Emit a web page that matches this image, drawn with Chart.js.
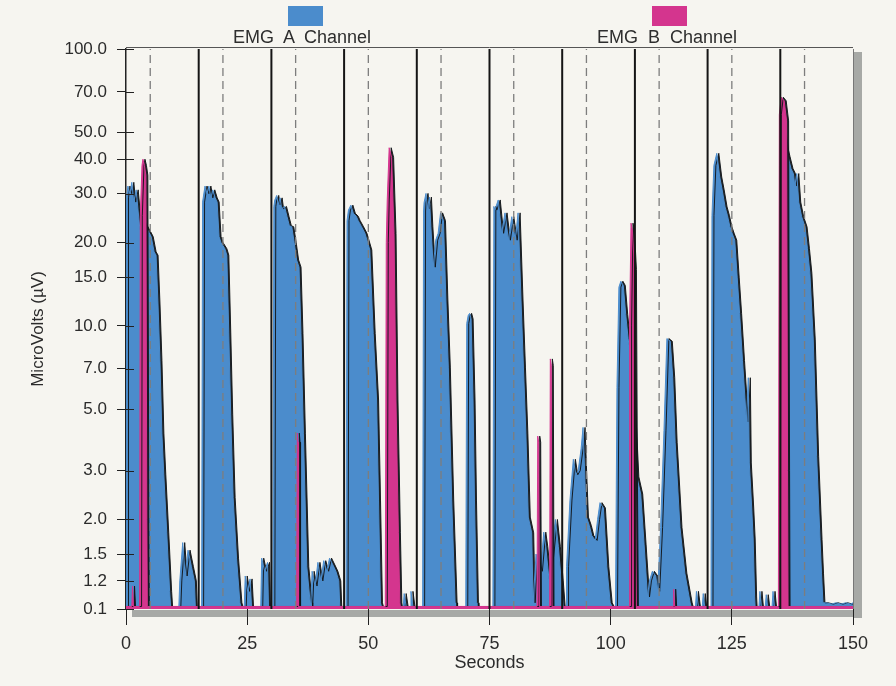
<!DOCTYPE html>
<html>
<head>
<meta charset="utf-8">
<title>EMG channels</title>
<script src="https://cdn.jsdelivr.net/npm/chart.js@4.4.1/dist/chart.umd.min.js"></script>
<style>
  html, body { margin: 0; padding: 0; background: #f6f5f0; }
  #wrap { position: relative; width: 896px; height: 686px; }
  .key { position: absolute; top: 28px; font: 18px "Liberation Sans", Arial, sans-serif; line-height: 18px; color: #2e2e2e; white-space: pre; }
  .swatch { position: absolute; top: 6px; width: 35px; height: 20px; }
</style>
</head>
<body>
<div id="wrap">
  <canvas id="emgChart"></canvas>
  <div class="swatch" id="swatchA" style="left:288px"></div>
  <div class="key" style="left:233px">EMG  A  Channel</div>
  <div class="swatch" id="swatchB" style="left:652px"></div>
  <div class="key" style="left:597px">EMG  B  Channel</div>
</div>
<script>
// resting level: sits on the "0.1" line at the floor of the axis
const REST = 0.1;
const Y_MIN = 0.95;
const Y_MAX = 100;
const Y_TICKS = [0.1, 1.2, 1.5, 2, 3, 5, 7, 10, 15, 20, 30, 40, 50, 70, 100];
const X_MAX = 150;
const X_STEP = 25;

// trial markers (seconds)
const SOLID_MARKS = [15, 30, 45, 60, 75, 90, 105, 120, 135];
const DASHED_MARKS = [5, 20, 35, 50, 65, 80, 95, 110, 125, 140];

// [seconds, microvolts]
const EMG_A = [
  [0.0, 0.1], [0.1, 29], [0.4, 32], [0.8, 30], [1.2, 33], [1.6, 28], [2.1, 31], [2.5, 26], [2.9, 22],
  [3.4, 24], [4.0, 23], [4.6, 22], [5.2, 21], [5.8, 18.5], [6.2, 18], [6.6, 12], [7.0, 7.5], [7.4, 4.1],
  [7.8, 2.9], [8.4, 1.8], [9.0, 1.1], [9.2, 0.1],
  [10.9, 0.1], [11.1, 1.2], [11.7, 1.65], [12.2, 1.25], [12.8, 1.55], [13.5, 1.35], [14.1, 1.2], [14.3, 0.1],
  [15.6, 0.1], [15.8, 28], [16.3, 32], [16.7, 30], [17.1, 32], [17.5, 29], [17.9, 31], [18.4, 29], [18.8, 28],
  [19.2, 21], [19.6, 20], [20.0, 19.5], [20.4, 19], [20.8, 18], [21.2, 9.5], [21.6, 4.8], [22.1, 2.4],
  [22.8, 1.45], [23.5, 1.0], [23.7, 0.1],
  [24.4, 0.1], [24.6, 1.25], [25.1, 1.1], [25.6, 1.22], [25.9, 0.1],
  [27.8, 0.1], [28.0, 1.45], [28.6, 1.3], [29.2, 1.4], [29.4, 0.1],
  [30.3, 0.1], [30.5, 27], [30.7, 28.5], [31.1, 29.6], [31.4, 27.4], [31.8, 29], [32.1, 26.5], [32.7, 27],
  [33.2, 24.9], [33.7, 23], [34.2, 22.8], [34.7, 20], [35.2, 17.3], [35.7, 16.3], [36.1, 9.4], [36.6, 4.1],
  [37.3, 1.35], [38.0, 1.0], [38.1, 0.1],
  [38.4, 1.3], [39.0, 1.15], [39.6, 1.4], [40.2, 1.2], [40.8, 1.42], [41.4, 1.3], [42.0, 1.45], [42.6, 1.38],
  [43.3, 1.3], [43.9, 1.2], [44.1, 0.1],
  [45.4, 0.1], [45.6, 24], [45.9, 26.2], [46.4, 27.3], [46.9, 25.5], [47.5, 24.9], [47.9, 24], [48.6, 22.8],
  [49.3, 21.6], [50.3, 18.8], [51.0, 9.4], [51.7, 5.4], [52.1, 2.35], [52.5, 1.0], [52.7, 0.1],
  [57.2, 0.1], [57.4, 1.08], [57.8, 0.1], [58.6, 0.1], [58.8, 1.1], [59.2, 0.1],
  [61.2, 0.1], [61.4, 26], [61.5, 27.9], [61.9, 30.1], [62.2, 26.5], [62.6, 29.2], [62.9, 22.8], [63.4, 16.3],
  [63.9, 20.4], [64.4, 21.6], [64.9, 25.6], [65.5, 24], [66.0, 12.4], [66.5, 7.1], [67.2, 2.35], [67.9, 1.0],
  [68.0, 0.1],
  [70.1, 0.1], [70.3, 10.2], [70.6, 10.9], [70.9, 11.1], [71.2, 10.6], [71.6, 5.4], [71.9, 2.35], [72.3, 1.0],
  [72.4, 0.1],
  [75.7, 0.1], [75.9, 27], [76.1, 26.2], [76.8, 28.5], [77.5, 21.6], [78.2, 25.6], [78.9, 20.4], [79.6, 24.8],
  [80.3, 20.4], [80.9, 25.6], [81.5, 12.4], [82.0, 7.1], [82.5, 4.1], [83.0, 2.04], [83.7, 1.79], [84.0, 1.0],
  [84.6, 1.5], [85.5, 1.3], [86.2, 1.8], [86.6, 1.6], [87.3, 1.2], [88.6, 2.0], [89.2, 1.6], [89.8, 1.2],
  [90.2, 0.1],
  [90.8, 0.1], [90.9, 1.35], [91.6, 2.35], [92.3, 3.3], [92.8, 2.9], [93.3, 3.0], [93.9, 3.6], [94.3, 4.3],
  [94.7, 2.75], [95.0, 2.04], [95.6, 1.9], [96.1, 1.75], [96.8, 1.68], [97.3, 2.0], [97.8, 2.3], [98.5, 2.2],
  [99.2, 1.35], [99.9, 1.0], [100.3, 0.1],
  [101.0, 0.1], [101.3, 6], [101.7, 13.8], [102.1, 14.5], [102.6, 14], [103.1, 11], [103.6, 9], [104.4, 7],
  [105.0, 4], [105.4, 2.85], [106.2, 2.47], [106.9, 1.62], [107.6, 1.05],
  [108.0, 1.2], [108.6, 1.3], [109.3, 1.25], [109.7, 1.1], [110.3, 1.87], [111.0, 4.2], [111.6, 9.0],
  [112.3, 8.8], [112.8, 6.5], [113.3, 3.8], [114.3, 1.87], [115.3, 1.28], [116.4, 1.0], [116.6, 0.1],
  [117.5, 0.1], [117.7, 1.1], [118.1, 0.1], [118.9, 0.1], [119.1, 1.08], [119.4, 0.1],
  [120.7, 0.1], [120.9, 25], [121.3, 38], [121.9, 42], [122.5, 34.5], [123.0, 31], [123.6, 26.9], [124.1, 25],
  [124.6, 22.8], [125.1, 21.5], [125.6, 20.4], [126.1, 15], [126.6, 11.1], [127.2, 7.5], [127.7, 5.5],
  [128.0, 4.5], [128.4, 6.5], [128.6, 3.2], [129.1, 2.2], [129.4, 1.7], [129.7, 1.05], [129.8, 0.1],
  [130.6, 0.1], [130.8, 1.1], [131.1, 0.1], [131.9, 0.1], [132.1, 1.07], [132.4, 0.1],
  [133.3, 0.1], [133.5, 1.1], [133.8, 0.1],
  [134.8, 0.1], [135.0, 45], [135.8, 50], [136.3, 43], [136.6, 40.8], [137.2, 37], [137.7, 35.5], [138.0, 32],
  [138.4, 35.5], [138.8, 28], [139.4, 24.8], [140.1, 22.8], [140.6, 19], [141.1, 15.5], [141.8, 8.9],
  [142.5, 3.37], [143.2, 1.69], [143.5, 1.28], [143.8, 1.0],
  [144.5, 1.0], [145.5, 0.99], [146.5, 1.0], [147.5, 0.99], [148.5, 1.0], [149.5, 0.99], [150.0, 1.0]
];

const EMG_B = [
  [0.0, 0.1], [1.2, 0.1], [1.35, 1.15], [1.55, 0.1],
  [2.8, 0.1], [2.95, 25], [3.3, 38], [3.5, 40], [3.8, 38], [4.1, 35], [4.3, 2], [4.4, 0.1],
  [35.2, 0.1], [35.35, 4.1], [35.5, 3.8], [35.6, 0.1],
  [53.5, 0.1], [53.7, 20], [53.9, 28.5], [54.3, 44], [54.8, 40.6], [55.3, 21.6], [55.7, 5.4], [56.2, 1.79],
  [56.5, 1.0], [56.6, 0.1],
  [84.8, 0.1], [84.95, 4.0], [85.15, 3.8], [85.3, 0.1],
  [87.4, 0.1], [87.55, 7.6], [87.75, 7.2], [87.9, 0.1],
  [103.8, 0.1], [103.9, 10], [104.2, 23.5], [104.5, 22], [104.9, 16], [105.1, 3], [105.3, 0.1],
  [112.9, 0.1], [113.0, 1.12], [113.2, 0.1],
  [134.6, 0.1], [134.8, 58], [135.2, 67], [135.8, 65], [136.3, 55], [136.5, 3], [136.6, 0.1],
  [150.0, 0.1]
];

const BLUE = '#4b8ccc';
const PINK = '#d4358e';
const FONT = '"Liberation Sans", Arial, sans-serif';

document.getElementById('swatchA').style.background = BLUE;
document.getElementById('swatchB').style.background = PINK;

// rest values are lifted just above the floor so the baseline trace shows
const toPlot = v => (v <= REST ? 0.97 : v);
const series = pts => pts.map(([t, v]) => ({ x: t, y: toPlot(v) }));
const marks = xs => xs.flatMap(x => [{ x, y: Y_MIN }, { x, y: Y_MAX }, { x, y: null }]);

// 3D look of the plot: dark edge on the right of each burst, grey frame shadow
const framePlugin = {
  id: 'frame',
  beforeDraw(chart) {
    const { ctx, chartArea: a } = chart;
    ctx.save();
    ctx.fillStyle = '#a7a9a6';
    ctx.fillRect(a.right, a.top + 3, 9, a.bottom - a.top + 6);
    ctx.fillRect(a.left + 6, a.bottom + 1, a.right - a.left + 3, 7);
    ctx.restore();
  },
  beforeDatasetsDraw(chart) {
    const ctx = chart.ctx;
    ctx.shadowColor = 'rgba(18, 22, 26, 0.95)';
    ctx.shadowOffsetX = 2;
    ctx.shadowOffsetY = 0;
    ctx.shadowBlur = 0.5;
  },
  beforeDatasetDraw(chart, args) {
    if (!chart.data.datasets[args.index].shadow) {
      chart.ctx.shadowColor = 'transparent';
    }
  },
  afterDatasetsDraw(chart) {
    const ctx = chart.ctx;
    ctx.shadowColor = 'transparent';
    ctx.shadowOffsetX = 0;
    ctx.shadowBlur = 0;
  },
  afterDraw(chart) {
    const { ctx, chartArea: a, scales } = chart;
    ctx.save();
    ctx.strokeStyle = '#555';
    ctx.lineWidth = 1;
    ctx.beginPath();
    ctx.moveTo(a.left, a.top - 1.5);
    ctx.lineTo(a.right, a.top - 1.5);
    ctx.stroke();
    ctx.strokeStyle = '#777';
    ctx.beginPath();
    ctx.moveTo(a.right + 0.5, a.top);
    ctx.lineTo(a.right + 0.5, a.bottom);
    ctx.stroke();
    // tick marks cross the y axis into the plot
    ctx.strokeStyle = '#222';
    scales.y.ticks.forEach(t => {
      const y = Math.round(scales.y.getPixelForValue(t.value)) + 0.5;
      ctx.beginPath();
      ctx.moveTo(a.left, y);
      ctx.lineTo(a.left + 8, y);
      ctx.stroke();
    });
    ctx.restore();
  }
};

new Chart(document.getElementById('emgChart'), {
  type: 'line',
  data: {
    datasets: [
      {
        label: 'EMG A Channel',
        data: series(EMG_A),
        borderColor: BLUE,
        backgroundColor: BLUE,
        borderWidth: 1,
        fill: 'start',
        pointRadius: 0,
        tension: 0,
        order: 3,
        shadow: true
      },
      {
        label: 'EMG B Channel',
        data: series(EMG_B),
        borderColor: PINK,
        backgroundColor: PINK,
        borderWidth: 1,
        fill: 'start',
        pointRadius: 0,
        tension: 0,
        order: 2,
        shadow: true
      },
      {
        label: 'dashed',
        data: marks(DASHED_MARKS),
        borderColor: '#7d7d7d',
        borderWidth: 1.3,
        borderDash: [8, 5],
        pointRadius: 0,
        fill: false,
        spanGaps: false,
        order: 1
      },
      {
        label: 'solid',
        data: marks(SOLID_MARKS),
        borderColor: '#151515',
        borderWidth: 2,
        pointRadius: 0,
        fill: false,
        spanGaps: false,
        order: 0
      }
    ]
  },
  options: {
    responsive: true,
    maintainAspectRatio: false,
    animation: false,
    layout: { padding: { top: 49, right: 43, left: 0, bottom: 0 } },
    plugins: {
      legend: { display: false },
      tooltip: { enabled: false }
    },
    scales: {
      x: {
        type: 'linear',
        min: 0,
        max: X_MAX,
        afterFit(scale) { scale.height = 77; },
        ticks: {
          stepSize: X_STEP,
          padding: 8,
          color: '#2b2b2b',
          font: { family: FONT, size: 18 }
        },
        grid: { drawOnChartArea: false, drawTicks: true, tickLength: 16, color: '#222' },
        border: { display: false },
        title: {
          display: true,
          text: 'Seconds',
          color: '#2b2b2b',
          font: { family: FONT, size: 18 },
          padding: { top: 0, bottom: 12 }
        }
      },
      y: {
        type: 'logarithmic',
        min: Y_MIN,
        max: Y_MAX,
        afterFit(scale) { scale.width = 126; },
        afterBuildTicks(scale) {
          scale.ticks = Y_TICKS.map(v => ({ value: Math.max(v, Y_MIN) }));
        },
        ticks: {
          autoSkip: false,
          padding: 10,
          color: '#2b2b2b',
          font: { family: FONT, size: 17 },
          callback: (v, i) => Y_TICKS[i].toFixed(1)
        },
        grid: { drawOnChartArea: false, drawTicks: true, tickLength: 9, color: '#222' },
        border: { display: true, color: '#222', width: 1.5 },
        title: {
          display: true,
          text: 'MicroVolts (\u00B5V)',
          color: '#2b2b2b',
          font: { family: FONT, size: 17 },
          padding: { top: 28, bottom: 0 }
        }
      }
    }
  },
  plugins: [framePlugin]
});
</script>
</body>
</html>
